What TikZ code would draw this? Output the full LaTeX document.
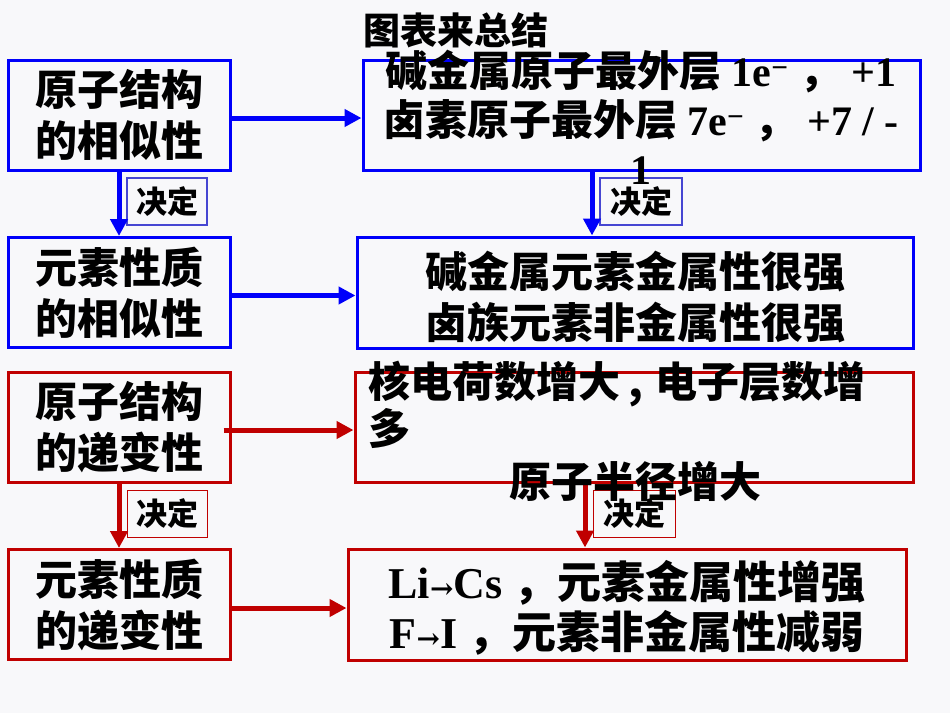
\documentclass[tikz,border=0pt]{standalone}
\usepackage{fontspec}
\setmainfont{Liberation Serif}
\newfontfamily\cjk{Noto Sans CJK SC}
\newfontfamily\arrowfont{DejaVu Serif}
\usetikzlibrary{arrows.meta}

\definecolor{lineblue}{RGB}{0,0,250}
\definecolor{linered}{RGB}{192,0,0}
\definecolor{tagblue}{RGB}{70,70,210}
\definecolor{paper}{RGB}{248,248,250}

\newcommand\zhbig{\cjk\bfseries\fontsize{42}{51}\selectfont}
\newcommand\zhtag{\cjk\bfseries\fontsize{31}{31}\selectfont}
\newcommand\zh[1]{{\cjk\bfseries #1}}
\newcommand\toarrow{{\arrowfont\fontsize{28}{28}\selectfont →}}

\tikzset{
  bluebox/.style={draw=lineblue, line width=3pt, inner sep=0pt},
  redbox/.style={draw=linered, line width=3pt, inner sep=0pt},
  sidebox/.style={minimum width=222pt, minimum height=110pt, align=center, font=\zhbig},
  tagbox/.style={line width=1.3pt, minimum height=47pt, inner sep=0pt, font=\zhtag},
  blueflow/.style={draw=lineblue, line width=5pt, -{Triangle[length=17pt,width=17pt]}},
  redflow/.style={draw=linered, line width=5pt, -{Triangle[length=17pt,width=17pt]}},
  bodytext/.style={inner sep=0pt, align=center, font=\bfseries\fontsize{42}{49}\selectfont}
}

\begin{document}
\begin{tikzpicture}[x=1pt,y=-1pt]
  \fill[paper] (0,0) rectangle (950,713);
  \useasboundingbox (0,0) rectangle (950,713);

  % left column
  \node[bluebox,sidebox] (A1) at (119,115) {原子结构\\的相似性};
  \node[bluebox,sidebox] (A2) at (119,292.5) {元素性质\\的相似性};
  \node[redbox,sidebox] (A3) at (119,427) {原子结构\\的递变性};
  \node[redbox,sidebox] (A4) at (119,604.5) {元素性质\\的递变性};

  % right column
  \node[bluebox,minimum width=557pt,minimum height=110pt] (B1) at (641.5,115) {};
  \node[bluebox,minimum width=556pt,minimum height=111pt] (B2) at (635,292.5) {};
  \node[redbox,minimum width=558pt,minimum height=110pt] (B3) at (634,427) {};
  \node[redbox,minimum width=558pt,minimum height=111pt] (B4) at (627,604.5) {};

  % tags
  \node[tagbox,draw=tagblue,minimum width=80pt] (L1) at (167,201.5) {决定};
  \node[tagbox,draw=tagblue,minimum width=82pt] (L2) at (641,201.5) {决定};
  \node[tagbox,draw=linered,line width=1pt,minimum width=80pt] (L3) at (167,514) {决定};
  \node[tagbox,draw=linered,line width=1pt,minimum width=82pt] (L4) at (634,514) {决定};

  % arrows
  \draw[blueflow] ([yshift=-3pt]A1.east) -- ([yshift=-3pt]B1.west);
  \draw[blueflow] ([yshift=-3pt]A2.east) -- ([yshift=-3pt]B2.west);
  \draw[blueflow] (A1.south) -- (A2.north);
  \draw[blueflow] ([xshift=-49.5pt]B1.south) -- ([xshift=-43pt]B2.north);
  \draw[redflow] ([xshift=-8pt,yshift=-3pt]A3.east) -- ([yshift=-3pt]B3.west);
  \draw[redflow] ([yshift=-3.5pt]A4.east) -- ([yshift=-3.5pt]B4.west);
  \draw[redflow] (A3.south) -- (A4.north);
  \draw[redflow] ([xshift=-49pt]B3.south) -- ([xshift=-42pt]B4.north);

  % texts
  \node[font=\cjk\bfseries\fontsize{37}{37}\selectfont] (title) at (456,30) {图表来总结};
  \node[bodytext] (T1) at (641,117)
    {\zh{碱金属原子最外层} 1e\textsuperscript{−} \zh{，} +1\\
     \zh{卤素原子最外层} 7e\textsuperscript{−} \zh{，} +7 / -\\
     1};
  \node[align=center,font=\zhbig] (T2) at (635,297) {碱金属元素金属性很强\\卤族元素非金属性很强};
  \node[anchor=base west,font=\zhbig] (T3a) at (365,397) {核电荷数增大\hspace{8pt},\hspace{12pt}电子层数增};
  \node[anchor=base west,font=\zhbig] (T3b) at (365,444) {多};
  \node[anchor=base,font=\zhbig] (T3c) at (635,497) {原子半径增大};
  \node[bodytext,font=\bfseries\fontsize{44}{50}\selectfont] (T4) at (627,608)
    {Li\toarrow Cs \zh{，元素金属性增强}\\
     F\toarrow I \zh{，元素非金属性减弱}};
\end{tikzpicture}
\end{document}
